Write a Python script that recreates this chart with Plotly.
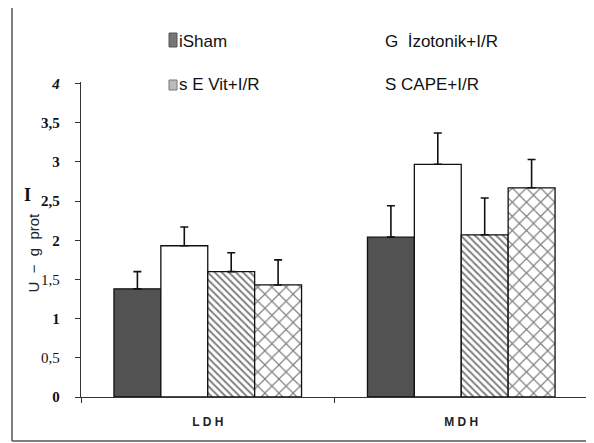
import plotly.graph_objects as go

categories = ["LDH", "MDH"]
category_labels = ["<b>L D H</b>", "<b>M D H</b>"]
series_names = ["Sham", "İzotonik+I/R", "E Vit+I/R", "CAPE+I/R"]
sham = [1.38, 2.04]
sham_err = [0.22, 0.40]
izotonik = [1.93, 2.97]
izotonik_err = [0.24, 0.40]
evit = [1.60, 2.07]
evit_err = [0.24, 0.47]
cape = [1.43, 2.67]
cape_err = [0.32, 0.36]
ytick_vals = [0, 0.5, 1, 1.5, 2, 2.5, 3, 3.5, 4]
ytick_text = ["<b>0</b>", "0,5", "<b>1</b>", "1,5", "<b>2</b>", "<b>2,5</b>", "<b>3</b>", "<b>3,5</b>", "<b><i>4</i></b>"]

# page offset of the plot div (default body margin)
OX, OY = 8, 8
W, H = 594 - OX, 443 - OY
# desired plot area in page pixels: x 81..588, y 82..397
L, R, T, B = 81 - OX, 594 - 588, 82 - OY, 443 - 397
PW, PH = W - L - R, H - T - B

def px(x):
    return (x - OX - L) / PW

def py(y):
    return (H - B - (y - OY)) / PH

fig = go.Figure()
styles = [
    dict(color="#525252", pattern=dict(shape="")),
    dict(color="white", pattern=dict(shape="")),
    dict(color="white", pattern=dict(shape="\\", fgcolor="#000000", size=5, solidity=0.4, fillmode="overlay")),
    dict(color="white", pattern=dict(shape="x", fgcolor="#000000", size=10, solidity=0.22, fillmode="overlay")),
]
vals = [sham, izotonik, evit, cape]
errs = [sham_err, izotonik_err, evit_err, cape_err]
for name, v, e, st in zip(series_names, vals, errs, styles):
    fig.add_trace(go.Bar(
        x=categories, y=v, name=name,
        marker=dict(color=st["color"], pattern=st["pattern"], line=dict(color="#111111", width=1.3)),
        error_y=dict(type="data", array=e, arrayminus=[0] * len(e), symmetric=False,
                     color="#111111", thickness=1.6, width=4),
        showlegend=False,
    ))

fig.update_layout(
    width=W, height=H,
    margin=dict(l=L, r=R, t=T, b=B),
    paper_bgcolor="white", plot_bgcolor="white",
    barmode="group", bargap=0.26, bargroupgap=0,
    font=dict(family="Liberation Sans, Arial", color="#111111"),
)
fig.update_xaxes(
    tickvals=categories, ticktext=category_labels,
    showline=True, linecolor="#333333", linewidth=1.3,
    ticks="outside", tickson="boundaries", ticklen=5, tickcolor="#333333",
    tickfont=dict(size=12, family="Liberation Sans, Arial", color="#222222"),
    ticklabelstandoff=13, showgrid=False, zeroline=False,
)
fig.update_yaxes(
    range=[0, 4.02], tickvals=ytick_vals, ticktext=ytick_text,
    showline=True, linecolor="#333333", linewidth=1.3,
    ticks="outside", ticklen=5, tickcolor="#333333",
    tickfont=dict(size=15, family="Liberation Serif, Times New Roman", color="#111111"),
    ticklabelstandoff=12, showgrid=False, zeroline=False,
)

# Outer frame
frame = dict(type="line", xref="paper", yref="paper", line=dict(color="#555555", width=1.5))
fig.add_shape(x0=px(12), x1=px(12), y0=py(7), y1=py(441), **frame)
fig.add_shape(x0=px(12), x1=px(593), y0=py(7), y1=py(7), **frame)
fig.add_shape(x0=px(12), x1=px(593), y0=py(441), y1=py(441), **frame)

# Legend (as in the scanned figure)
fig.add_shape(type="rect", xref="paper", yref="paper", x0=px(169), x1=px(177), y0=py(47), y1=py(33),
              fillcolor="#777777", line=dict(color="#555555", width=1))
fig.add_shape(type="rect", xref="paper", yref="paper", x0=px(169), x1=px(177), y0=py(90), y1=py(80),
              fillcolor="#bbbbbb", line=dict(color="#777777", width=1))
leg = dict(xref="paper", yref="paper", showarrow=False, xanchor="left", yanchor="middle",
           font=dict(size=17, family="Liberation Sans, Arial", color="#111111"))
fig.add_annotation(x=px(177), y=py(41), text="iSham", **leg)
fig.add_annotation(x=px(177), y=py(84), text="s E Vit+I/R", **leg)
fig.add_annotation(x=px(383), y=py(41), text="G  İzotonik+I/R", **leg)
fig.add_annotation(x=px(383), y=py(84), text="S CAPE+I/R", **leg)

# Y-axis title
fig.add_annotation(xref="paper", yref="paper", x=px(22), y=py(253), text="U  −  g  prot",
                   textangle=-90, showarrow=False,
                   font=dict(size=15, family="Liberation Sans, Arial", color="#222222"))
fig.add_annotation(xref="paper", yref="paper", x=px(22), y=py(195), text="<b>I</b>",
                   showarrow=False,
                   font=dict(size=18, family="Liberation Serif, Times New Roman", color="#111111"))

fig.write_html("out.html")
